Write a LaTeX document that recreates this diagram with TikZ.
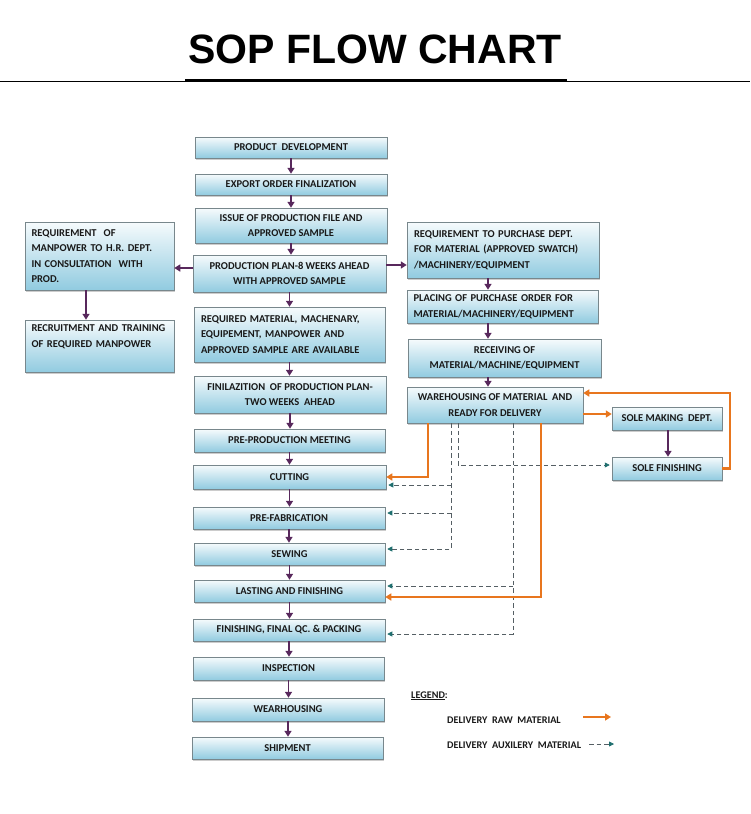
\documentclass[tikz,border=0pt]{standalone}
\usepackage{fontspec}
\setmainfont{Carlito}
\newfontfamily\titlefont{Liberation Sans}
\usetikzlibrary{arrows.meta,shadows,calc}
\definecolor{boxblue}{RGB}{145,203,224}
\definecolor{boxline}{RGB}{120,135,140}
\definecolor{flowpurple}{RGB}{88,40,92}
\definecolor{raworange}{RGB}{232,118,30}
\definecolor{auxgray}{RGB}{85,95,100}
\definecolor{auxteal}{RGB}{30,110,110}
\tikzset{
 box/.style={draw=boxline, line width=0.5pt, top color=white!92!boxblue, bottom color=boxblue,
   inner sep=0pt, align=center, font=\bfseries\fontsize{10.5}{15.5}\selectfont, text=black!90,
   drop shadow={shadow xshift=1.2pt,shadow yshift=-1.5pt,opacity=0.4}},
 lbox/.style={align=left},
 parrow/.style={draw=flowpurple, line width=1.8pt, -{Triangle[length=6pt,width=7pt]}},
 oarrow/.style={draw=raworange, line width=2.2pt, -{Triangle[length=6pt,width=7pt]}},
 dline/.style={draw=auxgray, line width=0.8pt, dash pattern=on 4.5pt off 3pt},
 darrow/.style={dline, shorten >=2pt, -{Triangle[length=5pt,width=5pt,color=auxteal]}},
 legtext/.style={font=\bfseries\fontsize{10.2}{12}\selectfont, text=black!90, anchor=base west, inner sep=0pt},
}
\newcommand{\flowbox}[7][]{\node[box,minimum width={(#5-#3)*1pt},minimum height={(#6-#4)*1pt},#1] (#2) at ({(#3+#5)/2},{(#4+#6)/2}) {#7};}
\begin{document}
\begin{tikzpicture}[x=1pt,y=-1pt]
\useasboundingbox (0,0) rectangle (750,814);
% title
\node[font=\titlefont\bfseries\fontsize{41}{41}\selectfont, anchor=base, inner sep=0pt] (title) at (375,63) {SOP FLOW CHART};
\coordinate (rl) at (0,81);
\coordinate (rr) at (750,81);
\coordinate (bl) at (185,80.5);
\coordinate (br) at (567,80.5);
\draw[line width=1pt] (rl) -- (rr);
\draw[line width=3.5pt] (bl) -- (br);
% main column
\flowbox{pd}{195}{137}{387}{158}{PRODUCT\ \ DEVELOPMENT}
\flowbox{eo}{195}{174}{387}{195}{EXPORT ORDER FINALIZATION}
\flowbox{ip}{195}{208}{387}{243}{ISSUE OF PRODUCTION FILE AND\\APPROVED SAMPLE}
\flowbox{pp}{193}{255}{386}{292}{PRODUCTION PLAN-8 WEEKS AHEAD\\WITH APPROVED SAMPLE}
\flowbox[lbox,text width=177pt]{rm}{194}{307}{385}{362}{REQUIRED MATERIAL, MACHENARY,\\EQUIPEMENT, MANPOWER AND\\APPROVED SAMPLE ARE AVAILABLE}
\flowbox{fp}{194}{376}{386}{413}{FINILAZITION\ \ OF PRODUCTION PLAN-\\TWO WEEKS\ \ AHEAD}
\flowbox{ppm}{194}{429}{385}{452}{PRE-PRODUCTION MEETING}
\flowbox{cut}{193}{465}{386}{489}{CUTTING}
\flowbox{pf}{193}{507}{385}{529}{PRE-FABRICATION}
\flowbox{sew}{194}{543}{385}{565}{SEWING}
\flowbox{last}{194}{580}{385}{602}{LASTING AND FINISHING}
\flowbox{fin}{193}{619}{385}{641}{FINISHING, FINAL QC. \& PACKING}
\flowbox{insp}{193}{657}{384}{680}{INSPECTION}
\flowbox{wear}{192}{698}{384}{721}{WEARHOUSING}
\flowbox{ship}{192}{737}{383}{759}{SHIPMENT}
% left column
\flowbox[lbox,text width=136pt]{hr}{25}{222}{174}{290}{REQUIREMENT\ \ OF\\MANPOWER TO H.R. DEPT.\\IN CONSULTATION\ \ WITH\\PROD.}
\flowbox[lbox,text width=136pt]{rec}{25}{320}{174}{372}{RECRUITMENT AND TRAINING\\OF REQUIRED MANPOWER\\\strut}
% right column
\flowbox[lbox,text width=178pt]{pur}{407}{222}{599}{278}{REQUIREMENT TO PURCHASE DEPT.\\FOR MATERIAL (APPROVED SWATCH)\\/MACHINERY/EQUIPMENT}
\flowbox[lbox,text width=178pt]{po}{407}{290}{598}{323}{PLACING OF PURCHASE ORDER FOR\\MATERIAL/MACHINERY/EQUIPMENT}
\flowbox{recv}{408}{339}{601}{377}{RECEIVING OF\\MATERIAL/MACHINE/EQUIPMENT}
\flowbox{wh}{407}{387}{583}{423}{WAREHOUSING OF MATERIAL\ \ AND\\READY FOR DELIVERY}
\flowbox{sm}{612}{407}{722}{430}{SOLE MAKING\ \ DEPT.}
\flowbox{sf}{612}{457}{722}{480}{SOLE FINISHING}
% purple flow arrows
\foreach \a/\b in {pd/eo,eo/ip,ip/pp,pp/rm,rm/fp,fp/ppm,ppm/cut,cut/pf,pf/sew,sew/last,last/fin,fin/insp,insp/wear,wear/ship}
  \draw[parrow] (\a) -- (\a |- \b.north);
\draw[parrow] (pp.west |- 0,268) -- (hr.east |- 0,268);
\draw[parrow] (pp.east |- 0,265) -- (pur.west |- 0,265);
\draw[parrow] (hr.south -| 86,0) -- (rec.north -| 86,0);
\draw[parrow] (pur.south -| 488,0) -- (po.north -| 488,0);
\draw[parrow] (po.south -| 488,0) -- (recv.north -| 488,0);
\draw[parrow] (recv.south -| 488,0) -- (wh.north -| 488,0);
\draw[parrow] (sm.south -| 668,0) -- (sf.north -| 668,0);
% auxiliary (dashed)
\coordinate (ja) at (451,485);
\coordinate (jb) at (451,513);
\coordinate (jc) at (513,586);
\draw[darrow] (wh.south -| 451,0) |- (sew.east |- 0,549);
\draw[darrow] (ja) -- (cut.east |- ja);
\draw[darrow] (jb) -- (pf.east |- jb);
\draw[darrow] (wh.south -| 458,0) |- (sf.west |- 0,465);
\draw[darrow] (wh.south -| 513,0) |- (fin.east |- 0,634);
\draw[darrow] (jc) -- (last.east |- jc);
% raw material (orange)
\draw[oarrow] (wh.east |- 0,414) -- (sm.west |- 0,414);
\draw[oarrow] (sf.east) -- ++(8,0) |- (wh.east |- 0,393);
\draw[oarrow] (wh.south -| 428,0) |- (cut.east |- 0,477);
\draw[oarrow] (wh.south -| 541,0) |- (last.east |- 0,597);
% legend
\node[legtext] (leg) at (411,698) {\underline{LEGEND}:};
\node[legtext] (lraw) at (447,723) {DELIVERY\ \ RAW\ \ MATERIAL};
\node[legtext] (laux) at (447,748) {DELIVERY\ \ AUXILERY\ \ MATERIAL};
\coordinate (ra) at (583,717);
\coordinate (rb) at (611,717);
\coordinate (aa) at (589,744);
\coordinate (ab) at (616,744);
\draw[oarrow, line width=1.8pt] (ra) -- (rb);
\draw[darrow] (aa) -- (ab);
\end{tikzpicture}
\end{document}
